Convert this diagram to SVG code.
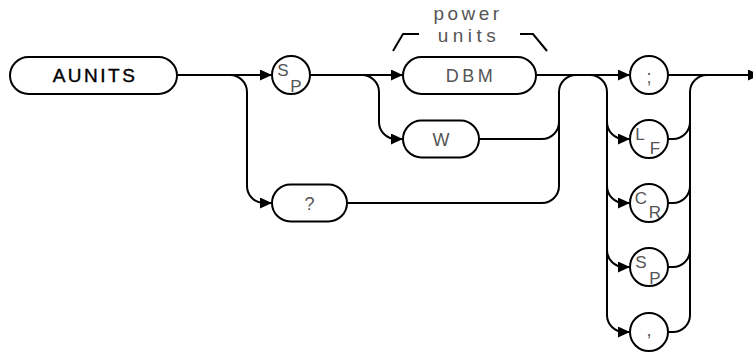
<svg xmlns="http://www.w3.org/2000/svg" width="753" height="354" viewBox="0 0 753 354">
<defs>
<marker id="ah" markerUnits="userSpaceOnUse" markerWidth="13" markerHeight="11" refX="12" refY="5.5" orient="auto">
<path d="M0,0 L12,5.5 L0,11 z" fill="#000"/>
</marker>
<style>
.box{fill:#fff;stroke:#000;stroke-width:2}
.ln{fill:none;stroke:#000;stroke-width:2}
.arr{marker-end:url(#ah)}
.kw{font-family:"Liberation Sans",Arial,sans-serif;font-size:19px;fill:#000;stroke:#000;stroke-width:0.4;letter-spacing:2.5px;text-anchor:middle}
.lt{font-family:"Liberation Sans",Arial,sans-serif;font-size:18px;fill:#555;text-anchor:middle}
.sm{font-family:"Liberation Sans",Arial,sans-serif;font-size:17px;fill:#555;text-anchor:middle}
</style>
</defs>
<rect width="753" height="354" fill="#fff"/>
<g id="connectors">
<path class="ln arr" d="M177,75 H272"/>
<path class="ln arr" d="M230,75 A17,17 0 0 1 247,92 V186 A17,17 0 0 0 264,203 H272"/>
<path class="ln arr" d="M310,75 H403"/>
<path class="ln arr" d="M362,75 A17,17 0 0 1 379,92 V122 A17,17 0 0 0 396,139 H403"/>
<path class="ln arr" d="M536,75 H630"/>
<path class="ln" d="M479,139 H542 A17,17 0 0 0 559,122"/>
<path class="ln" d="M347,203 H542 A17,17 0 0 0 559,186 V92 A17,17 0 0 1 576,75"/>
<path class="ln arr" d="M590,75 A17,17 0 0 1 607,92 V315 A17,17 0 0 0 624,332 H630"/>
<path class="ln arr" d="M607,122 A17,17 0 0 0 624,139 H630"/>
<path class="ln arr" d="M607,186 A17,17 0 0 0 624,203 H630"/>
<path class="ln arr" d="M607,250 A17,17 0 0 0 624,267 H630"/>
<path class="ln" d="M668,139 H673 A17,17 0 0 0 690,122"/>
<path class="ln" d="M668,203 H673 A17,17 0 0 0 690,186"/>
<path class="ln" d="M668,267 H673 A17,17 0 0 0 690,250"/>
<path class="ln" d="M668,332 H673 A17,17 0 0 0 690,315 V92 A17,17 0 0 1 707,75"/>
<path class="ln arr" d="M668,75 H760"/>
<path class="ln" d="M393,51 L403,34 H419 M520,34 H533 L547,51"/>
</g>
<g id="n-aunits">
<rect class="box" x="10" y="57" width="167" height="37" rx="18.5"/>
<text class="kw" x="95" y="82">AUNITS</text>
</g>
<g id="n-sp1">
<circle class="box" cx="291" cy="75" r="19"/>
<text class="sm" x="283" y="76">S</text>
<text class="sm" x="296" y="92">P</text>
</g>
<g id="n-power-units">
<text class="lt" x="468" y="20" style="font-size:19px;letter-spacing:3.5px">power</text>
<text class="lt" x="469" y="42" style="font-size:19px;letter-spacing:4.5px">units</text>
</g>
<g id="n-dbm">
<rect class="box" x="403" y="57" width="133" height="37" rx="18.5"/>
<text class="lt" x="471" y="82" style="letter-spacing:3.5px">DBM</text>
</g>
<g id="n-w">
<rect class="box" x="403" y="120.5" width="76" height="37" rx="18.5"/>
<text class="lt" x="441" y="146">W</text>
</g>
<g id="n-q">
<rect class="box" x="272" y="184.5" width="75" height="37" rx="18.5"/>
<text class="lt" x="309.5" y="210">?</text>
</g>
<g id="n-semi">
<circle class="box" cx="649" cy="75" r="19"/>
<text class="lt" x="649" y="83">;</text>
</g>
<g id="n-lf">
<circle class="box" cx="649" cy="139" r="19"/>
<text class="sm" x="640" y="140">L</text>
<text class="sm" x="655" y="154">F</text>
</g>
<g id="n-cr">
<circle class="box" cx="649" cy="203" r="19"/>
<text class="sm" x="641" y="204">C</text>
<text class="sm" x="655" y="218">R</text>
</g>
<g id="n-sp2">
<circle class="box" cx="649" cy="267" r="19"/>
<text class="sm" x="641" y="268">S</text>
<text class="sm" x="655" y="284">P</text>
</g>
<g id="n-comma">
<circle class="box" cx="649" cy="332" r="19"/>
<text class="lt" x="649" y="336">,</text>
</g>
</svg>
